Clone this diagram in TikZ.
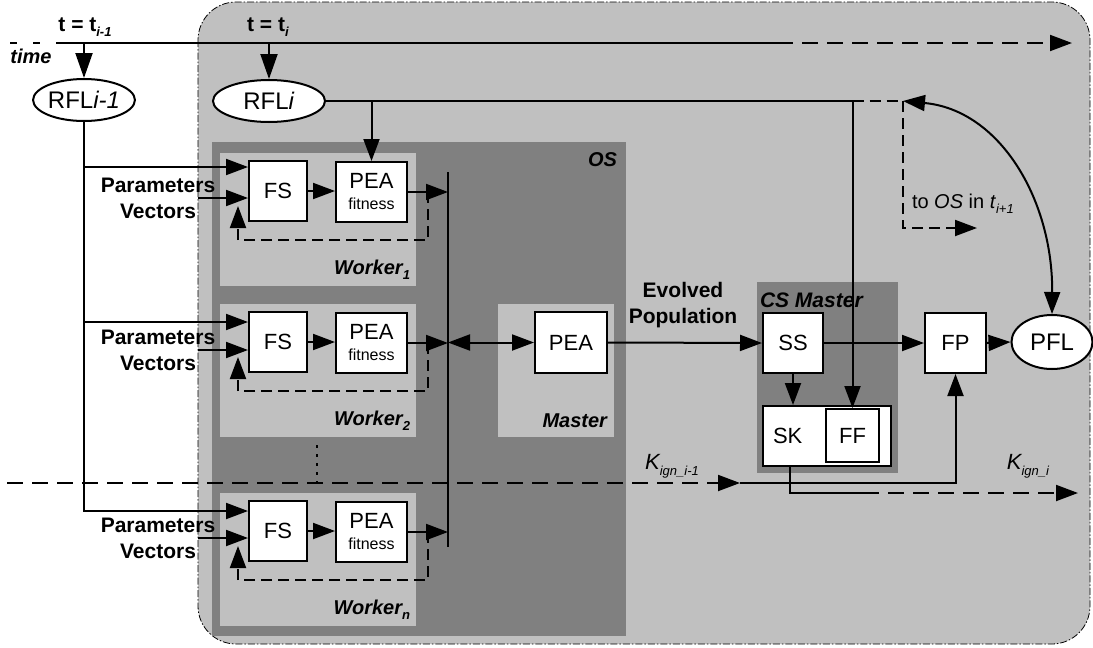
\documentclass[tikz,border=0pt]{standalone}
\usepackage{fontspec}
\setmainfont{Liberation Sans}
\usetikzlibrary{arrows.meta,calc,shapes.geometric}
\definecolor{lightg}{HTML}{C0C0C0}
\definecolor{darkg}{HTML}{808080}
\newcommand\lowsub[1]{\raisebox{-0.5ex}{\fontsize{13}{13}\selectfont #1}}
\begin{document}
\begin{tikzpicture}[x=1pt,y=-1pt, line width=2pt,
  >={Triangle[length=22pt,width=16pt]},
  box/.style={draw, fill=white, inner sep=0pt, font=\fontsize{22}{24}\selectfont},
  oval/.style={ellipse, draw, fill=white, inner sep=0pt, font=\fontsize{24}{26}\selectfont},
  bl/.style={font=\bfseries\fontsize{21}{26}\selectfont, inner sep=0pt, align=center},
  bil/.style={font=\bfseries\itshape\fontsize{20}{24}\selectfont, inner sep=0pt},
  dsh/.style={dash pattern=on 16pt off 9pt},
  sdsh/.style={dash pattern=on 11pt off 6pt},
  bigtip/.style={-{Triangle[length=25pt,width=17pt]}}]
\useasboundingbox (0,0) rectangle (1093,648);
% outer region
\draw[fill=lightg, line width=0.8pt, dash pattern=on 7pt off 2pt on 1.5pt off 2pt, rounded corners=38pt] (198,2) rectangle (1090,644);
% panels
\fill[darkg] (212,142) rectangle (626,636);
\fill[lightg] (498,304) rectangle (614,437);
\fill[darkg] (757,282) rectangle (898,473);
\node[bil, anchor=east] (oslab) at (618,160) {OS};
\node[bil, anchor=east] (mlab) at (608,421) {Master};
\node[bil, anchor=west, font=\bfseries\itshape\fontsize{21}{24}\selectfont] (cslab) at (759,300) {CS Master};
% time line
\coordinate (tl0) at (10,43);
\coordinate (tl1) at (58,43);
\coordinate (tl2) at (777,43);
\coordinate (tl3) at (1072,43);
\draw[dash pattern=on 7pt off 16pt] (tl0) -- (tl1);
\draw (tl1) -- (tl2);
\draw[dsh,->] (tl2) -- (tl3);
\node[bil] (time) at (31,56) {time};
\node[bl] (tlab0) at (85,27) {t = t\lowsub{\textit{i-1}}};
\node[bl] (tlab1) at (268,27) {t = t\lowsub{\textit{i}}};
% RFL nodes
\node[oval, minimum width=100, minimum height=42] (rfl0) at (84,100) {RFL\textit{i-1}};
\node[oval, minimum width=112, minimum height=42] (rfl1) at (269,101) {RFL\textit{i}};
\draw[bigtip] (rfl0.north |- tl1) -- (rfl0.north);
\draw[bigtip] (rfl1.north |- tl1) -- (rfl1.north);
% bar
\coordinate (bartop) at (448,172);
\coordinate (barbot) at (448,547);
\draw (bartop) -- (barbot);
% workers
\foreach \n/\dy/\dpin in {1/0/0,2/151/152,n/340/340}{
  \fill[lightg] (220,153+\dy) rectangle (416,286+\dy);
  \node[box, minimum width=58, minimum height=60] (fs\n) at (278,191+\dy) {FS};
  \node[box, minimum width=71, minimum height=60, align=center] (pea\n) at (371.5,192+\dy) {PEA\\[-3pt]{\fontsize{16}{16}\selectfont fitness}};
  \node[bil, anchor=east] (wl\n) at (411,270+\dy) {Worker\lowsub{\n}};
  \coordinate (pin\n) at (198,198+\dpin);
  \node[bl] (pv\n) at (158,198+\dpin) {Parameters\\Vectors};
  \draw[->] (pin\n) -- (pin\n -| fs\n.west);
  \draw[->] (fs\n.east) -- (fs\n.east -| pea\n.west);
  \draw[->] (pea\n.east) -- (pea\n.east -| bartop);
  \draw[sdsh,->] ($(pea\n.east)+(20,0)$) -- ++(0,48) -| ($(fs\n.south west)+(-10,-16)$);
}
% spine from RFL i-1
\draw[->] (rfl0.south) |- ($(fs1.north west)+(0,7)$);
\draw[->] (rfl0.south) |- ($(fs2.north west)+(0,11)$);
\draw[->] (rfl0.south) |- ($(fsn.north west)+(0,11)$);
% dotted
\coordinate (dt0) at (317,445);
\coordinate (dt1) at (317,484);
\draw[line width=2.5pt, dash pattern=on 3pt off 6pt] (dt0) -- (dt1);
% master PEA
\node[box, minimum width=72, minimum height=61] (mpea) at (571,342.5) {PEA};
\draw[<->] (mpea.west -| bartop) -- (mpea.west);
\node[bl] (evo) at (683,305) {Evolved\\Population};
% CS master
\node[box, minimum width=60, minimum height=60] (ss) at (793,343) {SS};
\node[box, minimum width=128, minimum height=60, label={[anchor=west, inner sep=10pt, font=\fontsize{22}{24}\selectfont]west:SK}] (sk) at (827,436) {};
\node[box, minimum width=53, minimum height=53] (ff) at (852.5,435.5) {FF};
\node[box, minimum width=61, minimum height=60] (fp) at (955.5,343) {FP};
\node[oval, minimum width=81, minimum height=54] (pfl) at (1052,342) {PFL};
\draw[->] (mpea.east) -- (ss.west);
\draw[->] (ss.east) -- (fp.west);
\draw[->] (fp.east) -- (pfl.west);
\draw[->] (ss.south) -- (ss.south |- sk.north);
% RFL i line
\draw[->] (rfl1.east) -| (ff.north);
\draw[->] (pea1.north |- rfl1.east) -- (pea1.north);
\coordinate (nx) at (903,101);
\coordinate (toos) at (977,228);
\draw[sdsh] (ff.north |- rfl1.east) -- (nx);
\draw[sdsh,->] (nx) |- (toos);
\node[anchor=west, inner sep=0pt, font=\fontsize{20}{22}\selectfont] (toostxt) at (911,204) {to \textit{OS} in \textit{t}\lowsub{\textit{i+1}}};
\draw[<->] (nx) .. controls (1000,110) and (1053,200) .. (pfl.north);
% K lines
\coordinate (kin) at (7,483);
\coordinate (kmid) at (740,483);
\draw[dsh,->] (kin) -- (kmid);
\draw[->] (kmid) -| (fp.south);
\node[inner sep=0pt, font=\itshape\fontsize{22}{24}\selectfont] (k0) at (672,466) {K\lowsub{ign\_i-1}};
\coordinate (skb) at ($(sk.south west)+(28,0)$);
\coordinate (kbend) at (863,493);
\coordinate (kout) at (1078,493);
\draw (skb) |- (kbend);
\draw[dsh,->] (kbend) -- (kout);
\node[inner sep=0pt, font=\itshape\fontsize{22}{24}\selectfont] (k1) at (1028,466) {K\lowsub{ign\_i}};
\end{tikzpicture}
\end{document}
